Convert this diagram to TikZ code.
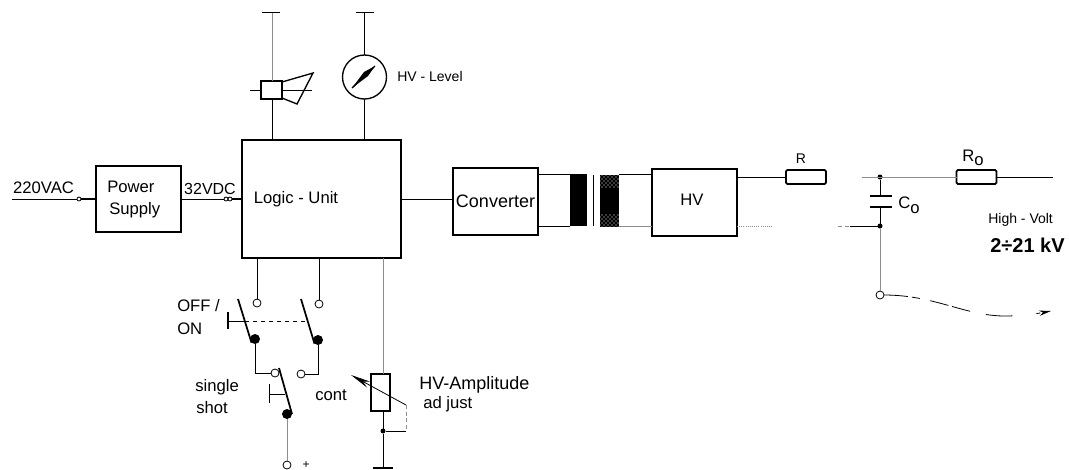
\documentclass[tikz,border=0pt]{standalone}
\usepackage{fontspec}
\setmainfont{Liberation Sans}
\usetikzlibrary{arrows.meta,patterns}
\def\px{0.75pt}
\newcommand{\subo}{\raisebox{-3.5pt}{o}}
\tikzset{
  blockbox/.style={draw, line width=1.5pt, inner sep=0pt, outer sep=0pt, align=left},
  txt/.style={inner sep=0pt, font=\fontsize{12.5}{14}\selectfont},
  bigtxt/.style={inner sep=0pt, font=\fontsize{13.5}{15}\selectfont},
  smalltxt/.style={inner sep=0pt, font=\fontsize{10.5}{12}\selectfont},
  wire/.style={line width=0.6pt},
  faded/.style={line width=0.6pt, black!45},
  term/.style={circle, draw, line width=0.6pt, fill=white, inner sep=0pt, minimum size=8*\px, outer sep=0pt},
  fuse/.style={circle, draw, line width=0.6pt, fill=white, inner sep=0pt, minimum size=4*\px},
  soldot/.style={circle, fill=black, inner sep=0pt, minimum size=10*\px, outer sep=0pt},
  junct/.style={circle, fill=black, inner sep=0pt, minimum size=5*\px, outer sep=0pt},
  blade/.style={line width=1.3pt},
  res/.style={draw, line width=1.3pt, rounded corners=1pt, inner sep=0pt, outer sep=0pt, minimum width=40*\px, minimum height=14*\px},
  plate/.style={line width=2.2pt}
}
\begin{document}
\begin{tikzpicture}[x=0.75pt, y=-0.75pt]
  \useasboundingbox (0,0) rectangle (1069,469);
  % blocks
  \node[blockbox, minimum width=85*\px, minimum height=66*\px] (power) at (138.5,199) {};
  \node[txt, anchor=west] (powertxt) at (107,187) {Power};
  \node[txt, anchor=west] (supplytxt) at (109,210) {Supply};
  \node[blockbox, minimum width=159*\px, minimum height=118*\px] (logic) at (321.5,199) {};
  \node[txt] (logictxt) at (296,199) {Logic - Unit};
  \node[blockbox, minimum width=85*\px, minimum height=67*\px, bigtxt] (conv) at (495.5,201) {Converter};
  \node[blockbox, minimum width=85*\px, minimum height=67*\px] (hv) at (694.5,202.5) {};
  \node[txt] (hvtxt) at (692,200) {HV};
  % transformer
  \node[fill=black, inner sep=0pt, outer sep=0pt, minimum width=17*\px, minimum height=52*\px] (corea) at (578.5,200) {};
  \node[preaction={fill=black}, pattern=crosshatch dots, pattern color=white, inner sep=0pt, outer sep=0pt, minimum width=19*\px, minimum height=52*\px] (coreb) at (609.5,200.5) {};
  \node[fill=black, inner sep=0pt, outer sep=0pt, minimum width=19*\px, minimum height=26*\px] (corec) at (609.5,200.5) {};
  \coordinate (sheeta) at (593,175);
  \coordinate (sheetb) at (593,226);
  \draw[wire] (sheeta) -- (sheetb);
  \draw[wire] (corea.north west) -- (corea.north west -| conv.east);
  \draw[wire] (corea.south west) -- (corea.south west -| conv.east);
  \draw[wire] (coreb.north east) -- (coreb.north east -| hv.west);
  \draw[faded] (coreb.south east) -- (coreb.south east -| hv.west);
  \draw[wire] (power.east) -- (logic.west);
  \draw[wire] (logic.east) -- (logic.east -| conv.west);
  % mains
  \coordinate (mains) at (12,199);
  \draw[wire] (mains) -- (power.west);
  \node[fuse] (fusea) at (79,199) {};
  \draw[line width=1.2pt] (fusea) -- (power.west);
  \node[fuse] (fuseb) at (226,199) {};
  \node[fuse] (fusec) at (230,199) {};
  \draw[line width=1.2pt] (fusec) -- (logic.west);
  \node[txt] (mainstxt) at (43.5,188) {220VAC};
  \node[txt, font=\fontsize{12}{14}\selectfont] (dctxt) at (210,188.5) {32VDC};
  % horn
  \node[draw, line width=1.3pt, inner sep=0pt, outer sep=0pt, minimum width=21*\px, minimum height=18*\px] (coil) at (271.5,90) {};
  \coordinate (horna) at (313,73);
  \coordinate (hornb) at (297,104);
  \coordinate (hornc) at (250,90);
  \coordinate (hornd) at (312,90);
  \coordinate (topa) at (272,12);
  \draw[line width=1pt] (coil.east |- 0,82) -- (horna) -- (hornb) -- (coil.east |- 0,98);
  \draw[wire] (hornc) -- (coil.west);
  \draw[wire] (coil.east) -- (hornd);
  \draw[faded] (topa) -- (topa |- coil.north);
  \draw[wire] (262,12) -- (280,12);
  \draw[wire] (coil.south -| topa) -- (topa |- logic.north);
  % meter
  \node[circle, draw, line width=1pt, inner sep=0pt, outer sep=0pt, minimum size=44*\px] (meter) at (364.5,77) {};
  \coordinate (topb) at (364.5,12);
  \coordinate (needa) at (352,88);
  \coordinate (needb) at (375,66);
  \draw[wire] (topb) -- (meter.north);
  \draw[wire] (356,12) -- (374,12);
  \draw[wire] (meter.south) -- (meter.south |- logic.north);
  \draw[line width=1pt] (needa) -- (needb);
  \fill (needa) -- (364,72) -- (needb) -- (368,76) -- cycle;
  \node[smalltxt, anchor=west] (leveltxt) at (397,76) {HV - Level};
  % switches
  \node[term] (terma) at (257,303) {};
  \node[term] (termb) at (319,304) {};
  \node[soldot] (dota) at (255,339) {};
  \node[soldot] (dotb) at (318,340) {};
  \node[term] (termc) at (275,373) {};
  \node[term] (termd) at (301,374) {};
  \node[soldot] (dotc) at (287,414) {};
  \node[term] (terme) at (287,465) {};
  \node[txt] (plustxt) at (306,465) {\fontsize{9}{9}\selectfont +};
  \coordinate (bladea) at (238,299);
  \coordinate (bladeb) at (301,299);
  \coordinate (bladec) at (279,368);
  \coordinate (pusha) at (228,321);
  \coordinate (pushb) at (269,394);
  \coordinate (linka) at (245,321);
  \coordinate (linkb) at (307,321);
  \coordinate (linkc) at (285,394);
  \draw[wire] (terma) -- (terma |- logic.south);
  \draw[wire] (termb) -- (termb |- logic.south);
  \draw[blade] (bladea) -- (dota.south west);
  \draw[blade] (bladeb) -- (dotb.south west);
  \draw[blade] (bladec) -- (dotc.east);
  \draw[wire] (pusha) -- (linka);
  \draw[line width=1pt] (228,312) -- (228,329);
  \draw[wire, dashed] (linka) -- (linkb);
  \draw[wire] (pushb) -- (linkc);
  \draw[wire] (269,384) -- (269,403);
  \draw[wire] (dota) |- (termc);
  \draw[wire] (dotb) |- (termd);
  \draw[faded] (dotc) -- (terme);
  \node[txt, anchor=west] (offtxt) at (177,306) {OFF /};
  \node[txt, anchor=west] (ontxt) at (177,329) {ON};
  \node[txt, anchor=west] (singletxt) at (195,387) {single};
  \node[txt, anchor=west] (shottxt) at (196,408) {shot};
  \node[txt, anchor=west] (conttxt) at (315,395) {cont};
  % potentiometer
  \node[draw, line width=1.6pt, inner sep=0pt, outer sep=0pt, minimum width=19*\px, minimum height=37*\px] (pot) at (380.5,392.5) {};
  \node[junct] (potdot) at (383,431) {};
  \coordinate (gnd) at (383,468);
  \coordinate (wipa) at (351,375);
  \coordinate (wipb) at (406,405);
  \coordinate (wipc) at (406,431);
  \draw[faded] (383,374) -- (383,258);
  \draw[-{Stealth[length=15pt,width=5pt]}, line width=0.6pt] (wipb) -- (wipa);
  \draw[faded, densely dashed] (wipb) -- (wipc);
  \draw[wire] (wipc) -- (potdot);
  \draw[wire] (pot.south -| potdot) -- (potdot);
  \draw[wire] (potdot) -- (gnd);
  \draw[line width=1pt] (373,468) -- (393,468);
  \node[bigtxt, anchor=west] (amptxt) at (419,385) {HV-Amplitude};
  \node[txt, anchor=west] (adjtxt) at (423,404) {ad just};
  % output
  \node[res] (r) at (806,177) {};
  \node[res] (ro) at (976.5,177) {};
  \coordinate (outa) at (862,177);
  \coordinate (outb) at (1053,177);
  \coordinate (hvlow) at (772,226);
  \coordinate (inlow) at (838,226);
  \node[junct] (capa) at (880,177) {};
  \node[junct] (capb) at (880,226) {};
  \node[term] (capc) at (880,295) {};
  \coordinate (platea) at (880,196);
  \coordinate (plateb) at (880,207);
  \coordinate (arrowend) at (1051,311);
  \draw[wire] (r.west) -- (r.west -| hv.east);
  \draw[faded, densely dotted] (hvlow) -- (hvlow -| hv.east);
  \draw[faded] (outa) -- (ro.west);
  \draw[wire] (ro.east) -- (outb);
  \draw[wire] (capa) -- (platea);
  \draw[wire] (capb) -- (plateb);
  \draw[plate] (870,196) -- (892,196);
  \draw[plate] (870,207) -- (892,207);
  \draw[faded, densely dashed] (inlow) -- (850,226);
  \draw[wire] (850,226) -- (capb);
  \draw[faded] (capb) -- (capc);
  \draw[wire, dash pattern=on 18pt off 3pt on 6pt off 8pt on 14pt off 3pt on 14pt off 12pt on 20pt, -{Stealth[length=9pt,width=4pt]}] (capc) .. controls (935,295) and (965,316) .. (1005,316) .. controls (1020,316) and (1035,314) .. (arrowend);
  \node[smalltxt] (rtxt) at (801,159) {R};
  \node[txt, anchor=west] (rotxt) at (962,158) {R\subo};
  \node[txt, anchor=west] (cotxt) at (898,205) {C\subo};
  \node[smalltxt, anchor=west] (hightxt) at (988,220) {High - Volt};
  \node[txt, anchor=west, font=\fontsize{15}{17}\bfseries\selectfont] (kvtxt) at (990,245) {2÷21 kV};
\end{tikzpicture}
\end{document}
